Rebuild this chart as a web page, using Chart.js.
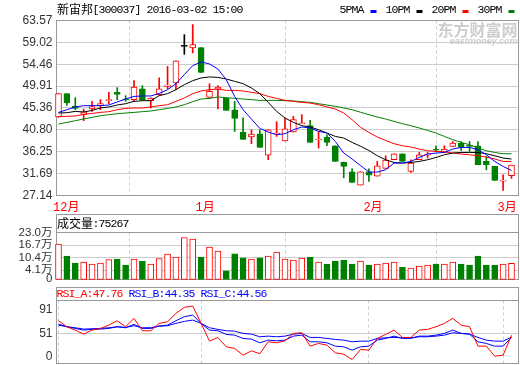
<!DOCTYPE html>
<html>
<head>
<meta charset="utf-8">
<script src="https://cdn.jsdelivr.net/npm/chart.js@4.4.1/dist/chart.umd.min.js"></script>
<style>
html, body { margin: 0; padding: 0; background: #fff; }
#wrap { position: relative; width: 520px; height: 365px; overflow: hidden; }
#wrap canvas { position: absolute; left: 0; }
</style>
</head>
<body>
<div id="wrap">
  <canvas id="kline" width="520" height="214" style="top:0px"></canvas>
  <canvas id="vol" width="520" height="74" style="top:214px"></canvas>
  <canvas id="rsi" width="520" height="78" style="top:287px"></canvas>
</div>
<script>
// ---- daily data, 新宙邦 (300037) ----
const DATES = [
  '2015-12-09','2015-12-10','2015-12-11','2015-12-14','2015-12-15','2015-12-16','2015-12-17','2015-12-18',
  '2015-12-21','2015-12-22','2015-12-23','2015-12-24','2015-12-25','2015-12-28','2015-12-29','2015-12-30','2015-12-31',
  '2016-01-04','2016-01-05','2016-01-06','2016-01-07','2016-01-08','2016-01-11','2016-01-12','2016-01-13','2016-01-14',
  '2016-01-15','2016-01-18','2016-01-19','2016-01-20','2016-01-21','2016-01-22','2016-01-25','2016-01-26','2016-01-27',
  '2016-01-28','2016-01-29',
  '2016-02-01','2016-02-02','2016-02-03','2016-02-04','2016-02-05','2016-02-15','2016-02-16','2016-02-17','2016-02-18',
  '2016-02-19','2016-02-22','2016-02-23','2016-02-24','2016-02-25','2016-02-26','2016-02-29',
  '2016-03-01','2016-03-02'
];
const OPEN = [
  43.48,48.34,45.69,44.02,45.15,45.83,46.88,48.61,47.23,47.09,49.32,46.88,48.13,49.86,50.57,58.19,57.86,
  57.92,47.57,49.23,47.44,45.00,40.35,39.31,40.00,35.56,39.94,38.48,40.35,42.08,41.67,38.69,39.23,37.50,34.02,32.08,29.31,
  32.08,31.18,32.77,34.58,35.83,32.14,34.58,35.55,36.81,36.10,37.35,38.06,37.40,37.50,34.23,33.19,
  30.14,31.25
];
const HIGH = [
  48.34,48.34,47.50,45.15,46.73,47.09,48.61,49.59,47.92,51.05,50.00,47.50,51.61,54.02,55.15,60.63,62.72,
  57.92,50.42,50.00,47.44,46.73,43.33,40.83,40.83,40.83,42.50,43.19,43.61,43.96,42.77,40.48,39.79,37.50,34.10,32.71,32.08,
  32.71,34.23,35.41,35.83,35.83,34.58,36.10,36.10,37.50,37.50,38.39,38.39,38.39,38.39,35.27,33.19,
  31.46,33.48
];
const LOW = [
  43.40,45.90,45.00,42.71,44.65,45.00,46.25,47.09,46.73,46.81,46.90,45.36,48.00,49.38,49.17,56.53,56.82,
  52.78,47.40,45.15,44.86,40.48,38.81,37.92,37.15,34.58,39.44,38.48,40.35,42.08,38.19,37.02,37.50,34.23,30.83,29.85,29.31,
  30.06,31.18,32.77,34.58,34.23,31.93,34.58,34.94,36.25,36.10,37.35,36.52,36.31,33.54,32.50,30.27,
  28.18,30.68
];
const CLOSE = [
  48.34,46.40,45.27,44.58,45.63,46.25,47.09,48.19,47.02,49.73,47.09,47.44,49.32,50.15,55.15,58.19,58.55,
  52.78,48.82,49.73,44.86,43.19,38.81,39.94,37.15,40.83,40.15,41.04,42.92,42.23,38.19,38.90,38.19,34.23,33.19,29.85,32.08,
  31.39,33.33,34.52,35.83,34.23,33.90,35.62,35.62,36.60,36.81,38.06,37.15,37.35,33.54,33.54,30.27,
  30.35,33.48
];
// volume in lots (手)
const VOLUME = [
  171400,111300,76200,81200,71200,76200,94700,96200,66200,96200,86200,71200,99700,121300,106300,205000,196500,
  106300,156400,136300,37600,122800,102800,96200,102800,111300,131300,96200,91200,101300,106300,81200,71200,86200,91200,71200,86200,
  66200,71200,76200,81200,56100,51100,61200,66200,71200,71200,81200,71200,66200,111300,66200,66200,
  71200,75267
];
const MA5 = [
  44.44,45.00,45.57,45.84,45.84,45.84,45.98,46.61,47.23,47.77,47.86,47.86,48.40,49.17,50.42,52.30,54.17,
  54.94,54.53,53.48,51.25,47.77,45.00,43.06,41.11,40.35,39.79,40.00,40.83,41.40,41.19,40.48,40.15,38.40,35.98,34.73,33.39,
  32.02,32.02,32.50,33.89,33.89,34.23,35.06,35.77,35.98,36.10,36.81,37.15,37.15,36.67,35.62,34.23,
  33.19,32.35
];
const MA10 = [
  44.31,44.38,44.65,44.52,44.86,45.36,45.57,45.98,46.25,46.73,46.88,46.88,47.92,48.34,49.17,50.21,51.05,
  51.61,51.82,51.73,51.40,50.90,50.42,49.52,48.34,46.52,44.65,43.27,42.36,41.67,41.40,40.83,40.15,39.44,39.10,38.19,37.40,
  36.52,35.42,34.58,34.02,33.89,34.02,34.23,34.58,35.06,35.62,35.98,36.10,36.10,36.10,35.83,35.42,
  34.94,34.73
];
const MA20 = [
  43.61,43.61,43.69,44.02,44.23,44.44,44.59,45.00,45.27,45.36,45.36,45.57,45.84,46.04,46.73,47.44,48.34,
  48.90,49.17,49.32,49.02,49.02,48.90,48.61,48.34,47.77,47.36,46.94,46.73,46.52,46.40,46.04,45.57,45.15,44.31,42.92,41.36,
  40.27,39.31,38.60,37.92,37.50,37.23,36.81,36.46,36.31,36.25,35.98,35.77,35.62,35.42,35.15,34.73,
  34.23,34.23
];
const MA30 = [
  42.02,42.36,42.71,43.06,43.40,43.75,43.96,44.17,44.31,44.44,44.59,44.73,45.00,45.27,45.57,46.04,46.67,
  47.23,47.36,47.65,47.50,47.36,47.23,47.09,46.94,46.94,46.94,46.88,46.82,46.67,46.52,46.25,45.98,45.69,45.36,45.00,44.48,
  43.96,43.48,43.06,42.56,42.08,41.67,41.19,40.69,40.15,39.44,38.75,38.19,37.71,37.02,36.46,36.10,
  35.83,35.83
];
const RSI_A = [
  72.5,62.3,56.6,49.8,56.6,59.5,65.1,72.5,62.3,76.5,55.5,55.5,68.0,70.8,85.0,95.2,97.4,
  68.0,37.9,44.2,28.3,25.5,14.1,21.5,16.5,36.8,35.1,38.5,51.0,52.1,29.4,34.0,31.1,18.1,15.8,6.7,23.8,
  22.6,42.5,49.3,56.6,44.2,44.2,56.6,57.8,62.3,68.0,76.5,65.1,62.3,29.4,29.4,12.4,
  14.1,47.76
];
const RSI_B = [
  65.1,62.3,59.5,56.6,57.8,58.3,59.5,62.3,60.6,66.3,59.5,59.5,63.4,65.1,72.5,79.3,82.1,
  68.0,56.6,55.5,49.3,48.1,42.5,41.3,35.1,39.6,38.5,39.6,46.4,48.1,36.8,36.8,35.1,29.4,28.3,22.6,28.3,
  29.4,39.6,42.5,46.4,42.5,42.5,46.4,46.4,48.1,51.0,56.6,51.0,49.8,36.8,34.0,29.4,
  29.4,44.35
];
const RSI_C = [
  66.8,62.3,60.6,58.3,58.9,59.5,60.6,62.3,61.2,64.0,60.6,60.6,63.4,64.0,68.0,71.4,73.6,
  68.0,60.6,57.8,55.5,54.9,51.0,49.8,45.3,46.4,45.3,46.4,49.8,51.0,44.2,44.2,42.5,40.8,39.6,36.8,37.9,
  37.9,42.5,43.6,44.2,43.6,43.6,45.3,45.3,46.4,48.1,52.1,51.0,49.8,44.2,39.6,37.9,
  37.9,44.56
];
const PRICE_TICKS = [27.14, 31.69, 36.25, 40.80, 45.36, 49.91, 54.46, 59.02, 63.57];
const VOLUME_TICKS = [0, 41000, 104000, 167000, 230000];
const VOLUME_TICK_LABELS = ['0', '4.1万', '10.4万', '16.7万', '23.0万'];
const RSI_TICKS = [0, 51, 91];
const MA_NAMES = ['5PMA', '10PM', '20PM', '30PM'];

// ---- styling ----
const RED = '#ff0000', GREEN = '#008000', BLUE = '#0000ff', BLACK = '#000000';
const FRAME = '#999999', GRID = '#cccccc', LABEL = '#333333';
const X_MIN = -0.2384, X_MAX = 54.834;   // index range across the plot width
const VOL_MIN = -5600;
const RSI_MAX = 106.8;
const AXIS_W = 56.5;
const TICK_FONT = { family: '"Liberation Sans", Arial, sans-serif', size: 12 };

const N = DATES.length;
const last = N - 1;
const upDay = i => CLOSE[i] >= OPEN[i];
const candleColor = i => CLOSE[i] > OPEN[i] ? RED : (CLOSE[i] < OPEN[i] ? GREEN : BLACK);

// month boundaries along the date axis
const MONTH_TICKS = [];
const MONTH_LABELS = [];
DATES.forEach((d, i) => {
  const m = d.slice(5, 7);
  if (i === 0 || m !== DATES[i - 1].slice(5, 7)) {
    MONTH_TICKS.push(i);
    MONTH_LABELS.push(parseInt(m, 10) + '月');
  }
});

// fixed-cell text: half-width cells for Latin, full-width for CJK
function cellText(ctx, str, x, y, color) {
  ctx.save();
  ctx.fillStyle = color;
  ctx.textBaseline = 'middle';
  ctx.textAlign = 'center';
  for (const ch of str) {
    const wide = ch.charCodeAt(0) > 255;
    const w = wide ? 12 : 6;
    ctx.font = wide ? '12px "Noto Sans CJK SC"' : '11.5px "Liberation Mono"';
    ctx.fillText(ch, x + w / 2, y);
    x += w;
  }
  ctx.restore();
  return x;
}

const framePlugin = {
  id: 'frame',
  beforeDatasetsDraw(chart, args, opts) {
    const { left, right, top, bottom } = chart.chartArea;
    const ctx = chart.ctx;
    const head = opts.header || 0;
    ctx.save();
    ctx.strokeStyle = FRAME;
    ctx.lineWidth = 1;
    ctx.strokeRect(left, top - head, right - left, bottom - top + head);
    if (head) {
      ctx.beginPath();
      ctx.moveTo(left, top);
      ctx.lineTo(right, top);
      ctx.stroke();
    }
    ctx.restore();
  }
};

function dateAxis(showLabels, height) {
  return {
    type: 'linear',
    min: X_MIN,
    max: X_MAX,
    bounds: 'data',
    offset: false,
    afterBuildTicks: s => { s.ticks = MONTH_TICKS.map(v => ({ value: v })); },
    afterFit: s => { s.height = height; s.paddingLeft = 0; s.paddingRight = 0; },
    grid: { color: GRID, lineWidth: 1, drawTicks: false },
    border: { display: false, dash: [3, 3] },
    ticks: {
      display: showLabels,
      autoSkip: false,
      maxRotation: 0,
      align: 'start',
      labelOffset: -5.5,
      padding: 5,
      color: RED,
      font: { family: '"Liberation Mono", "Noto Sans CJK SC"', size: 12 },
      callback: v => MONTH_LABELS[MONTH_TICKS.indexOf(v)]
    }
  };
}

function valueAxis(min, max, ticks, labelFn, gridFn, font) {
  return {
    min, max,
    bounds: 'data',
    afterBuildTicks: s => { s.ticks = ticks.map(v => ({ value: v })); },
    afterFit: s => { s.width = AXIS_W; s.paddingTop = 0; s.paddingBottom = 0; },
    grid: { color: gridFn, lineWidth: 1, drawTicks: false },
    border: { display: false },
    ticks: { color: LABEL, font: font || TICK_FONT, padding: 4, autoSkip: false, callback: labelFn }
  };
}

const common = {
  responsive: false,
  animation: false,
  devicePixelRatio: 1,
  events: [],
};

const line = (data, color, order) => ({
  type: 'line',
  data: data.map((v, i) => ({ x: i, y: v })),
  borderColor: color,
  borderWidth: 1,
  pointRadius: 0,
  tension: 0,
  order,
  clip: false
});

// ---- price panel ----
new Chart(document.getElementById('kline'), {
  type: 'bar',
  data: {
    datasets: [
      line(MA5, BLUE, 0), line(MA10, BLACK, 0), line(MA20, RED, 0), line(MA30, GREEN, 0),
      {
        type: 'bar',
        data: OPEN.map((o, i) => ({ x: i, y: [Math.min(o, CLOSE[i]), Math.max(o, CLOSE[i])] })),
        backgroundColor: OPEN.map((o, i) => CLOSE[i] > o ? '#ffffff' : candleColor(i)),
        borderColor: OPEN.map((o, i) => candleColor(i)),
        borderWidth: 1,
        borderSkipped: false,
        barThickness: 6,
        minBarLength: 1,
        grouped: false,
        order: 1,
        clip: false
      },
      {
        type: 'bar',
        data: LOW.map((l, i) => ({ x: i, y: [l, HIGH[i]] })),
        backgroundColor: LOW.map((l, i) => candleColor(i)),
        borderWidth: 0,
        barThickness: 1,
        grouped: false,
        order: 2,
        clip: false
      }
    ]
  },
  options: {
    ...common,
    layout: { padding: { top: 20.5, right: 1.5, bottom: 0, left: 0 } },
    plugins: { legend: { display: false }, tooltip: { enabled: false }, frame: {} },
    scales: {
      x: dateAxis(true, 18.5),
      y: valueAxis(PRICE_TICKS[0], PRICE_TICKS[PRICE_TICKS.length - 1], PRICE_TICKS,
        v => v.toFixed(2), () => GRID)
    }
  },
  plugins: [framePlugin, {
    id: 'priceDecor',
    beforeDatasetsDraw(chart) {
      const ctx = chart.ctx;
      const r = chart.chartArea.right;
      ctx.save();
      ctx.fillStyle = '#cdcdcd';
      ctx.textAlign = 'right';
      ctx.textBaseline = 'middle';
      ctx.font = 'bold 16px "Noto Sans CJK SC"';
      ctx.fillText('东方财富网', r - 1, 29.5);
      ctx.font = 'italic bold 9px "Liberation Sans"';
      ctx.fillText('eastmoney.com', r - 1, 41.5);
      ctx.restore();
    },
    afterDraw(chart) {
      const ctx = chart.ctx;
      cellText(ctx, '新宙邦[300037] ' + DATES[last] + ' 15:00', 57, 9.5, BLACK);
      const colors = [BLUE, BLACK, RED, GREEN];
      MA_NAMES.forEach((name, k) => {
        const x = 340 + 46 * k;
        cellText(ctx, name, x, 9.5, BLACK);
        ctx.fillStyle = colors[k];
        ctx.fillRect(x + 30.5, 10, 6, 3);
      });
    }
  }]
});

// ---- volume panel ----
new Chart(document.getElementById('vol'), {
  type: 'bar',
  data: {
    datasets: [{
      data: VOLUME.map((v, i) => ({ x: i, y: v })),
      base: VOL_MIN,
      backgroundColor: VOLUME.map((v, i) => upDay(i) ? '#ffffff' : GREEN),
      borderColor: VOLUME.map((v, i) => upDay(i) ? RED : GREEN),
      borderWidth: 1,
      borderSkipped: false,
      barThickness: 6,
      grouped: false,
      clip: false
    }]
  },
  options: {
    ...common,
    layout: { padding: { top: 18.5, right: 1.5, bottom: 8.5, left: 0 } },
    plugins: { legend: { display: false }, tooltip: { enabled: false }, frame: { header: 18 } },
    scales: {
      x: dateAxis(false, 0),
      y: valueAxis(VOL_MIN, VOLUME_TICKS[VOLUME_TICKS.length - 1], VOLUME_TICKS,
        v => VOLUME_TICK_LABELS[VOLUME_TICKS.indexOf(v)],
        c => c.tick && c.tick.value === 0 ? 'rgba(0,0,0,0)' : GRID,
        { family: '"Liberation Sans", "Noto Sans CJK SC"', size: 11.5 })
    }
  },
  plugins: [framePlugin, {
    id: 'volHeader',
    afterDraw(chart) {
      cellText(chart.ctx, '成交量:' + VOLUME[last], 57, 9.5, BLACK);
    }
  }]
});

// ---- RSI panel ----
new Chart(document.getElementById('rsi'), {
  type: 'line',
  data: {
    datasets: [line(RSI_A, RED, 0), line(RSI_B, BLUE, 1), line(RSI_C, BLUE, 2)]
  },
  options: {
    ...common,
    layout: { padding: { top: 13.5, right: 1.5, bottom: 1.5, left: 0 } },
    plugins: { legend: { display: false }, tooltip: { enabled: false }, frame: { header: 13 } },
    scales: {
      x: dateAxis(false, 0),
      y: valueAxis(0, RSI_MAX, RSI_TICKS,
        v => v === 0 ? ['0', ''] : String(v),
        c => c.tick && c.tick.value === 51 ? GRID : 'rgba(0,0,0,0)')
    }
  },
  plugins: [framePlugin, {
    id: 'rsiHeader',
    afterDraw(chart) {
      const ctx = chart.ctx;
      let x = cellText(ctx, 'RSI_A:' + RSI_A[last].toFixed(2), 57, 7, RED);
      x = cellText(ctx, ' RSI_B:' + RSI_B[last].toFixed(2), x, 7, BLUE);
      cellText(ctx, ' RSI_C:' + RSI_C[last].toFixed(2), x, 7, BLUE);
    }
  }]
});
</script>
</body>
</html>
